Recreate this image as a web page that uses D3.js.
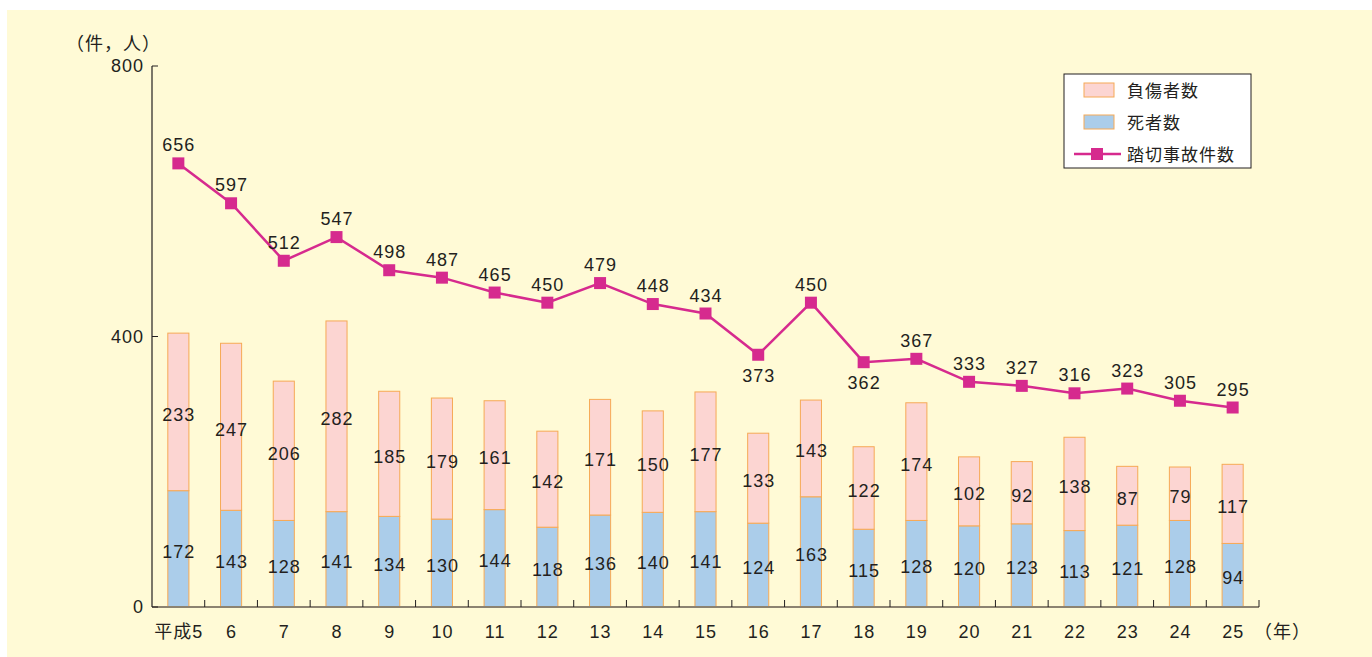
<!DOCTYPE html>
<html>
<head>
<meta charset="utf-8">
<style>
  body { margin: 0; background: #ffffff; }
  svg text { font-family: "Liberation Sans", "Noto Sans CJK JP", sans-serif; fill: #231f20; letter-spacing: 1px; }
</style>
<script src="https://d3js.org/d3.v7.min.js"></script>
</head>
<body>
<svg id="chart" width="1372" height="657"></svg>
<script>
var years = ["平成5","6","7","8","9","10","11","12","13","14","15","16","17","18","19","20","21","22","23","24","25"];
var deaths = [172,143,128,141,134,130,144,118,136,140,141,124,163,115,128,120,123,113,121,128,94];
var injuries = [233,247,206,282,185,179,161,142,171,150,177,133,143,122,174,102,92,138,87,79,117];
var accidents = [656,597,512,547,498,487,465,450,479,448,434,373,450,362,367,333,327,316,323,305,295];
var yTicks = [0, 400, 800];
var labelBelow = ["16", "18"];

var svg = d3.select("#chart");

svg.append("rect")
   .attr("x", 7).attr("y", 10)
   .attr("width", 1365).attr("height", 647)
   .attr("fill", "#fffad6");

var x = d3.scaleBand().domain(years).range([152, 1259]).paddingInner(0.6).paddingOuter(0.3);
var y = d3.scaleLinear().domain([0, 800]).range([607, 66]);

var pink = "#fcd5d2", blue = "#abcdea", edge = "#f6a956", lineCol = "#d62a8e";
var fs = 18;

// stacked bars
var rows = years.map(function(d, i) { return {year: d, dead: deaths[i], hurt: injuries[i]}; });

var g = svg.append("g");
g.selectAll(".dead").data(rows).enter().append("rect")
  .attr("x", function(d) { return x(d.year); })
  .attr("y", function(d) { return y(d.dead); })
  .attr("width", x.bandwidth())
  .attr("height", function(d) { return y(0) - y(d.dead); })
  .attr("fill", blue).attr("stroke", edge).attr("stroke-width", 1);

g.selectAll(".hurt").data(rows).enter().append("rect")
  .attr("x", function(d) { return x(d.year); })
  .attr("y", function(d) { return y(d.dead + d.hurt); })
  .attr("width", x.bandwidth())
  .attr("height", function(d) { return y(d.dead) - y(d.dead + d.hurt); })
  .attr("fill", pink).attr("stroke", edge).attr("stroke-width", 1);

var cx = function(d) { return x(d.year) + x.bandwidth() / 2; };
var tx = function(d) { return cx(d) + 0.5; };

g.selectAll(".deadLbl").data(rows).enter().append("text")
  .attr("x", tx)
  .attr("y", function(d) { return (y(0) + y(d.dead)) / 2 + 9; })
  .attr("text-anchor", "middle").attr("font-size", fs)
  .text(function(d) { return d.dead; });

g.selectAll(".hurtLbl").data(rows).enter().append("text")
  .attr("x", tx)
  .attr("y", function(d) { return (y(d.dead) + y(d.dead + d.hurt)) / 2 + 9; })
  .attr("text-anchor", "middle").attr("font-size", fs)
  .text(function(d) { return d.hurt; });

// axes
var xAxis = svg.append("g")
  .attr("transform", "translate(0,607)");
xAxis.append("line")
  .attr("x1", 152).attr("x2", 1259)
  .attr("stroke", "#8c8371").attr("stroke-width", 2);
var step = x.step();
xAxis.selectAll(".tk").data(years).enter().append("line")
  .attr("x1", function(d) { return x(d) - x.paddingInner() * step / 2 + step; })
  .attr("x2", function(d) { return x(d) - x.paddingInner() * step / 2 + step; })
  .attr("y1", 0).attr("y2", -7)
  .attr("stroke", "#231f20").attr("stroke-width", 1);
xAxis.selectAll(".xl").data(years).enter().append("text")
  .attr("x", function(d) { return x(d) + x.bandwidth() / 2 + 0.5; })
  .attr("y", 31)
  .attr("text-anchor", "middle").attr("font-size", fs)
  .text(function(d) { return d; });
svg.append("text").attr("x", 1254).attr("y", 638).attr("font-size", fs)
  .attr("letter-spacing", 3).text("（年）");

var yAxis = svg.append("g").attr("transform", "translate(152,0)");
yAxis.append("line").attr("y1", 66).attr("y2", 607).attr("stroke", "#231f20").attr("stroke-width", 1.2);
yAxis.selectAll(".yt").data(yTicks).enter().append("line")
  .attr("x1", 0).attr("x2", 6)
  .attr("y1", function(d) { return y(d); }).attr("y2", function(d) { return y(d); })
  .attr("stroke", "#231f20");
yAxis.selectAll(".yl").data(yTicks).enter().append("text")
  .attr("x", -8).attr("y", function(d) { return y(d) + 6; })
  .attr("text-anchor", "end").attr("font-size", fs)
  .text(function(d) { return d; });
svg.append("text").attr("x", 66).attr("y", 50).attr("font-size", fs)
  .attr("letter-spacing", 2).text("（件，人）");

// accidents line
var pts = years.map(function(d, i) { return {year: d, v: accidents[i]}; });
var line = d3.line().x(cx).y(function(d) { return y(d.v); });
svg.append("path").datum(pts)
  .attr("d", line).attr("fill", "none")
  .attr("stroke", lineCol).attr("stroke-width", 2.5);
svg.selectAll(".mk").data(pts).enter().append("rect")
  .attr("x", function(d) { return cx(d) - 6; })
  .attr("y", function(d) { return y(d.v) - 6; })
  .attr("width", 12).attr("height", 12)
  .attr("fill", lineCol);
svg.selectAll(".ml").data(pts).enter().append("text")
  .attr("x", tx)
  .attr("y", function(d) { return labelBelow.indexOf(d.year) >= 0 ? y(d.v) + 27 : y(d.v) - 12; })
  .attr("text-anchor", "middle").attr("font-size", fs)
  .text(function(d) { return d.v; });

// legend
var lg = svg.append("g").attr("transform", "translate(1064,74)");
lg.append("rect").attr("width", 187).attr("height", 94)
  .attr("fill", "#ffffff").attr("stroke", "#231f20").attr("stroke-width", 1);
lg.append("rect").attr("x", 20).attr("y", 9).attr("width", 30).attr("height", 14)
  .attr("fill", pink).attr("stroke", edge);
lg.append("rect").attr("x", 20).attr("y", 41).attr("width", 30).attr("height", 14)
  .attr("fill", blue).attr("stroke", edge);
lg.append("line").attr("x1", 10).attr("x2", 57).attr("y1", 80).attr("y2", 80)
  .attr("stroke", lineCol).attr("stroke-width", 2.5);
lg.append("rect").attr("x", 27).attr("y", 74).attr("width", 12).attr("height", 12).attr("fill", lineCol);
lg.selectAll(".lt").data(["負傷者数", "死者数", "踏切事故件数"]).enter().append("text")
  .attr("x", 63).attr("y", function(d, i) { return 23 + i * 32; })
  .attr("font-size", 17).attr("letter-spacing", 0)
  .text(function(d) { return d; });
</script>
</body>
</html>
